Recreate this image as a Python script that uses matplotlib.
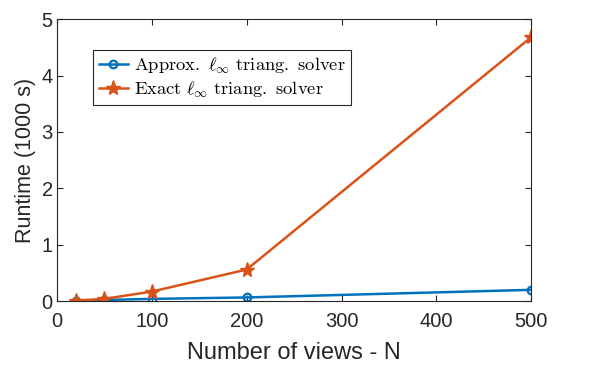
import numpy as np
import matplotlib
matplotlib.use('Agg')
import matplotlib.pyplot as plt

plt.rcParams['mathtext.fontset'] = 'cm'
plt.rcParams['font.family'] = 'Liberation Sans'

# number of views and runtimes (1000 s)
views = [20, 50, 100, 200, 500]
approx = [0.01, 0.02, 0.04, 0.065, 0.2]
exact = [0.01, 0.04, 0.17, 0.56, 4.68]

fig = plt.figure(figsize=(5.89, 3.75), dpi=100)
ax = fig.add_axes([0.0968, 0.197, 0.805, 0.752])

ax.plot(views, approx, color='#0072BD', lw=1.8, marker='o', ms=5.5,
        mfc='none', mew=1.6,
        label=r'$\mathrm{Approx.}\ \ell_\infty\ \mathrm{triang.\ solver}$')
ax.plot(views, exact, color='#D95319', lw=1.8, marker='*', ms=11,
        label=r'$\mathrm{Exact}\ \ell_\infty\ \mathrm{triang.\ solver}$')

ax.set_xlim(0, 500)
ax.set_ylim(0, 5)
ax.set_xticks([0, 100, 200, 300, 400, 500])
ax.set_yticks([0, 1, 2, 3, 4, 5])
ax.tick_params(direction='in', which='both', top=True, right=True,
               labelsize=14.5, colors='#262626', length=4)
ax.tick_params(axis='x', pad=8)
ax.tick_params(axis='y', pad=3)
for s in ax.spines.values():
    s.set_color('#262626')
    s.set_linewidth(0.8)
ax.set_xlabel('Number of views - N', fontsize=17, color='#262626', labelpad=8)
ax.set_ylabel('Runtime (1000 s)', fontsize=15.5, color='#262626', labelpad=4)

leg = ax.legend(loc='upper left', bbox_to_anchor=(0.076, 0.89), fontsize=13.3,
                fancybox=False, framealpha=1, edgecolor='#262626',
                handlelength=1.6, handletextpad=0.3, borderpad=0.3,
                labelspacing=0.2, borderaxespad=0)
leg.get_frame().set_linewidth(0.8)

plt.savefig('out.png', dpi=100)
